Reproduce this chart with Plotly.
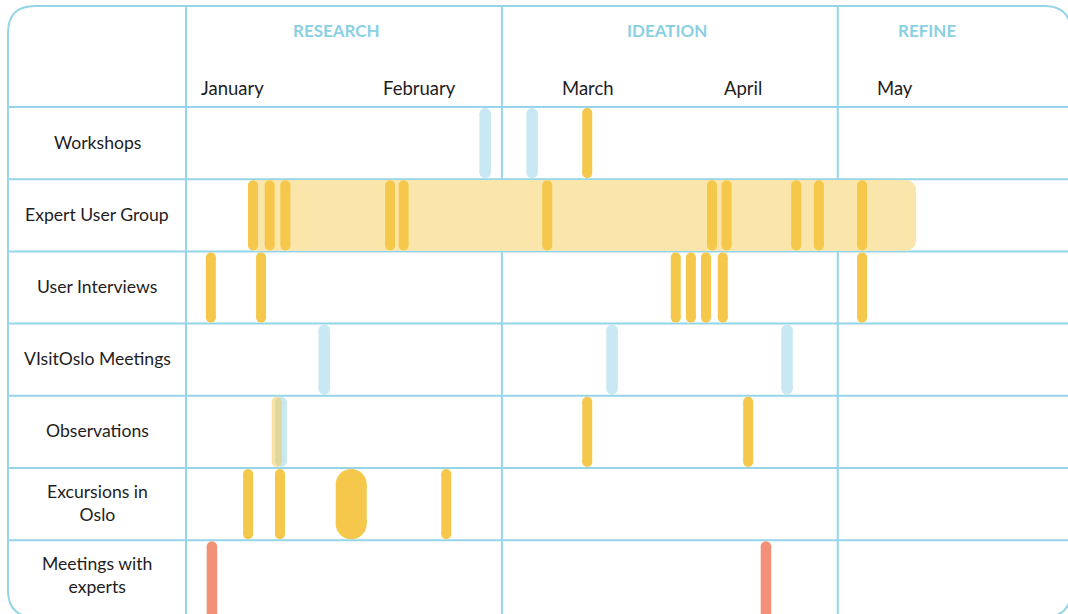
import plotly.graph_objects as go

# ---------------- data ----------------
rows = ["Workshops", "Expert User Group", "User Interviews", "VIsitOslo Meetings",
        "Observations", "Excursions in<br>Oslo", "Meetings with<br>experts"]

phases = ["RESEARCH", "IDEATION", "REFINE"]
phase_starts = [0, 58.5, 120.7]          # day of year where each phase starts
phase_label_day = [27.8, 89.1, 137.2]

months = ["January", "February", "March", "April", "May"]
month_label_day = [2.4, 36.1, 69.3, 99.3, 127.6]

# events (day of year)
workshops_partner = [55.4, 64.1]
workshops_own = [74.3]
expert_group_span = [11.5, 135.2]
expert_group_sessions = [12.4, 15.5, 18.4, 37.8, 40.3, 66.9, 97.4, 100.1, 113.0, 117.2, 125.2]
user_interviews = [4.6, 13.9, 90.7, 93.5, 96.3, 99.4, 125.2]
visitoslo_meetings = [25.6, 78.9, 111.3]
observations_partner = [17.6]
observations_tentative = [16.8]
observations_own = [74.3, 104.1]
excursions = [11.5, 17.4, 48.2]
excursion_long = [30.6]
expert_meetings = [4.8, 107.4]

# ---------------- styling / geometry ----------------
W, H = 1068, 614
PX_PER_DAY = 5.4
X0_PX = 186          # pixel of day 0
HEADER_PX = 107      # header height
ROW_PX = 72.2        # row height

YELLOW = "#F5C84C"
BAND = "#FAE6AA"
BLUE = "#C8E8F3"
SALMON = "#F29178"
GRID = "#96D5E7"
HEAD = "#8AD0E3"
TEXT = "#1E1E1E"
FONT = "Lato"

x_range = [-X0_PX / PX_PER_DAY, (W - X0_PX) / PX_PER_DAY]
y_top = -0.5 - HEADER_PX / ROW_PX
y_bot = -0.5 + (H - HEADER_PX) / ROW_PX


def ydata(px):
    return -0.5 + (px - HEADER_PX) / ROW_PX


def pill_trace(pairs, color, width, opacity=1.0):
    xs, ys = [], []
    inset = (1 + width / 2) / ROW_PX
    for row, days in pairs:
        for d in days:
            # last row runs off the bottom of the page in the original
            bottom = row + 0.5 - inset if row < len(rows) - 1 else row + 0.7
            xs += [d, d, None]
            ys += [row - 0.5 + inset, bottom, None]
    return go.Scatter(x=xs, y=ys, mode="lines+markers",
                      line=dict(color=color, width=width),
                      marker=dict(color=color, size=width, line=dict(width=0)),
                      opacity=opacity, hoverinfo="skip", showlegend=False)


fig = go.Figure()

# expert user group period band
fig.add_trace(go.Bar(orientation="h", y=[1], base=[expert_group_span[0]],
                     x=[expert_group_span[1] - expert_group_span[0]], width=[0.98],
                     marker=dict(color=BAND, line=dict(width=0), cornerradius=10),
                     hoverinfo="skip", showlegend=False))

fig.add_trace(pill_trace([(0, workshops_partner), (3, visitoslo_meetings),
                          (4, observations_partner)], BLUE, 11.5))
fig.add_trace(pill_trace([(0, workshops_own), (1, expert_group_sessions),
                          (2, user_interviews), (4, observations_own),
                          (5, excursions)], YELLOW, 10))
fig.add_trace(pill_trace([(4, observations_tentative)], YELLOW, 10, opacity=0.5))
fig.add_trace(pill_trace([(5, excursion_long)], YELLOW, 31))
fig.add_trace(pill_trace([(6, expert_meetings)], SALMON, 10.5))

shapes = []
# outer rounded frame (paper coords)
L, T, R, B, r = 8, 6, 1071, 617, 27
def px(x):
    return x / W
def py(y):
    return 1 - y / H
path = (f"M {px(L)},{py(T + r)} Q {px(L)},{py(T)} {px(L + r)},{py(T)} "
        f"L {px(R - r)},{py(T)} Q {px(R)},{py(T)} {px(R)},{py(T + r)} "
        f"L {px(R)},{py(B - r)} Q {px(R)},{py(B)} {px(R - r)},{py(B)} "
        f"L {px(L + r)},{py(B)} Q {px(L)},{py(B)} {px(L)},{py(B - r)} Z")
shapes.append(dict(type="path", path=path, xref="paper", yref="paper",
                   line=dict(color=GRID, width=2), layer="below"))
# horizontal row lines
for k in range(len(rows)):
    shapes.append(dict(type="line", xref="paper", yref="y", x0=px(L), x1=px(R),
                       y0=k - 0.5, y1=k - 0.5, line=dict(color=GRID, width=2), layer="below"))
# vertical dividers
for xv in phase_starts:
    shapes.append(dict(type="line", xref="x", yref="paper", x0=xv, x1=xv,
                       y0=py(T), y1=0, line=dict(color=GRID, width=2), layer="below"))

annotations = []
for i, name in enumerate(rows):
    annotations.append(dict(x=px(97), xref="paper", y=i, yref="y", text=name,
                            showarrow=False, xanchor="center", yanchor="middle",
                            align="center", yshift=1,
                            font=dict(family=FONT, size=17.6, color=TEXT)))
for name, xd in zip(phases, phase_label_day):
    annotations.append(dict(x=xd, xref="x", y=ydata(30), yref="y", text=f"<b>{name}</b>",
                            showarrow=False, xanchor="center", yanchor="middle",
                            font=dict(family=FONT, size=17, color=HEAD)))
for name, xd in zip(months, month_label_day):
    annotations.append(dict(x=xd, xref="x", y=ydata(88), yref="y", text=name,
                            showarrow=False, xanchor="left", yanchor="middle",
                            font=dict(family=FONT, size=18.5, color=TEXT)))

fig.update_layout(
    width=W, height=H, margin=dict(l=0, r=0, t=0, b=0),
    paper_bgcolor="white", plot_bgcolor="white",
    barmode="overlay", showlegend=False,
    xaxis=dict(range=x_range, visible=False, fixedrange=True, domain=[0, 1]),
    yaxis=dict(range=[y_bot, y_top], visible=False, fixedrange=True, domain=[0, 1]),
    shapes=shapes, annotations=annotations,
)

fig.write_html("out.html", config={"displayModeBar": False},
               post_script="document.body.style.margin='0px';")
